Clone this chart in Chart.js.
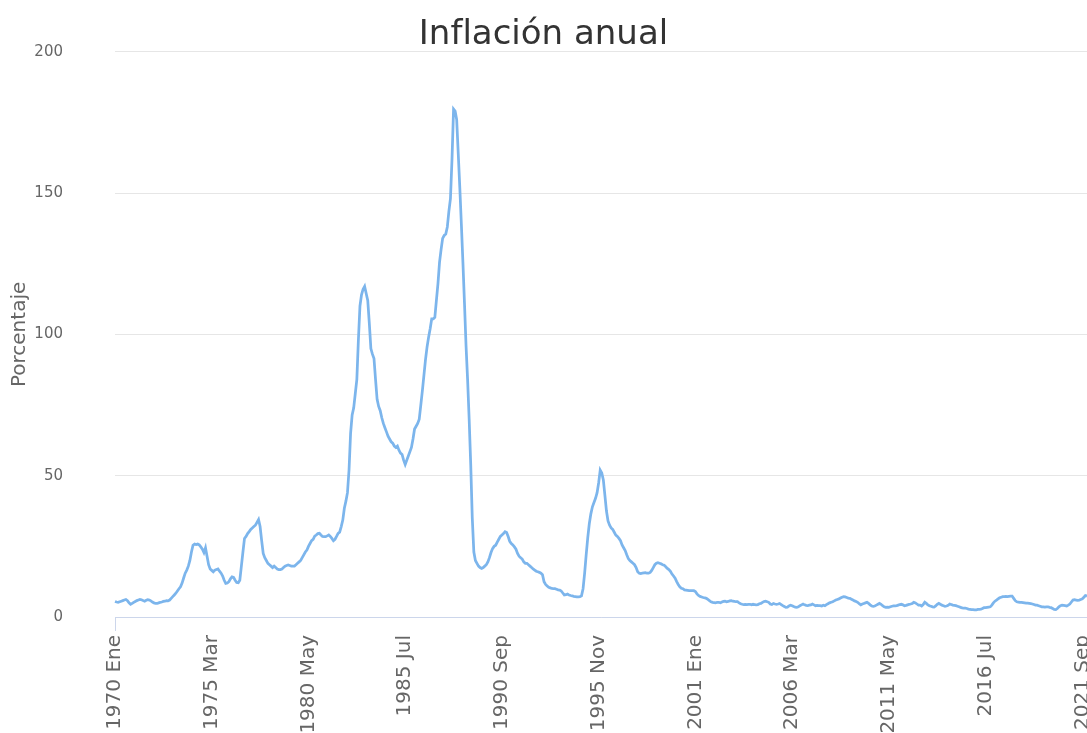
<!DOCTYPE html>
<html lang="es">
<head>
<meta charset="utf-8">
<title>Inflación anual</title>
<script src="https://cdn.jsdelivr.net/npm/chart.js@4.4.1/dist/chart.umd.min.js"></script>
<style>
  html, body { margin: 0; padding: 0; background: #fff; overflow: hidden; }
  #wrap { width: 1087px; height: 733px; }
</style>
</head>
<body>
<div id="wrap"><canvas id="chart"></canvas></div>
<script>
const months = ['Ene', 'Feb', 'Mar', 'Abr', 'May', 'Jun', 'Jul', 'Ago', 'Sep', 'Oct', 'Nov', 'Dic'];
const firstYear = 1970;
const lastYear = 2021;
const labelEvery = 62;
const yTicks = [0, 50, 100, 150, 200];

// inflación anual mensual (%), una fila por año
const inf1970s = [
  5.5, 5.3, 5.2, 5.4, 5.6, 5.8, 6.0, 6.2, 5.8, 5.0, 4.5, 4.8,
  5.2, 5.5, 5.8, 6.0, 6.2, 6.1, 5.8, 5.6, 5.9, 6.1, 6.0, 5.7,
  5.3, 5.0, 4.8, 4.8, 5.0, 5.2, 5.3, 5.5, 5.6, 5.8, 5.7, 6.0,
  6.6, 7.2, 7.8, 8.4, 9.2, 10.0, 10.7, 12.0, 13.8, 15.5, 16.6, 18.0,
  20.0, 23.0, 25.4, 25.8, 25.6, 25.8, 25.5, 24.8, 24.0, 22.8, 24.5, 21.5,
  18.5, 17.0, 16.5, 16.0, 16.6, 16.8, 17.0, 16.2, 15.5, 14.5, 13.0, 11.9,
  12.0, 12.5, 13.5, 14.2, 14.0, 13.0, 12.2, 12.1, 13.0, 18.0, 23.0, 27.8,
  28.5, 29.5, 30.2, 31.0, 31.5, 32.0, 32.5, 33.5, 34.5, 32.0, 27.0, 22.5,
  21.0, 20.0, 19.0, 18.5, 18.0, 17.5, 18.0, 17.5, 17.0, 16.8, 16.8, 17.0,
  17.5, 18.0, 18.2, 18.4, 18.2, 18.0, 18.0, 18.0, 18.5, 19.0, 19.5, 20.0
];
const inf1980s = [
  21.0, 22.0, 23.0, 23.7, 25.0, 26.0, 27.0, 27.5, 28.6, 29.0, 29.5, 29.6,
  29.0, 28.5, 28.4, 28.4, 28.7, 29.0, 28.5, 27.8, 27.0, 27.5, 28.5, 29.6,
  30.0, 32.0, 34.3, 38.5, 41.0, 44.0, 52.0, 65.0, 71.5, 74.0, 79.0, 84.0,
  98.0, 110.0, 114.0, 116.0, 117.0, 114.5, 112.0, 104.0, 95.0, 93.0, 91.5, 84.0,
  77.0, 74.5, 73.0, 70.5, 68.5, 67.0, 65.5, 64.0, 63.0, 62.0, 61.5, 60.5,
  60.0, 60.5, 59.0, 58.0, 57.5, 55.5, 54.0, 55.5, 57.0, 58.5, 60.0, 63.0,
  66.5, 67.5, 68.5, 70.0, 75.0, 80.0, 85.5, 91.0, 95.5, 99.0, 102.0, 105.5,
  105.5, 106.0, 112.0, 118.0, 125.5, 130.0, 134.0, 135.0, 135.5, 138.0, 143.5, 148.0,
  162.0, 179.7, 179.0, 176.0, 164.0, 152.0, 139.0, 125.5, 111.0, 96.0, 84.0, 70.0,
  54.0, 35.0, 23.0, 20.0, 19.0, 18.0, 17.5, 17.2, 17.5, 18.0, 18.5, 19.5
];
const inf1990s = [
  21.0, 22.8, 24.2, 25.0, 25.4, 26.5, 27.5, 28.5, 29.0, 29.5, 30.2, 29.9,
  28.5, 26.8, 26.0, 25.5, 24.8, 24.0, 22.5, 21.5, 21.0, 20.5, 19.5, 19.0,
  19.0, 18.5, 18.0, 17.5, 17.0, 16.6, 16.2, 16.0, 15.8, 15.5, 15.0, 12.5,
  11.5, 11.0, 10.5, 10.3, 10.1, 10.0, 10.0, 9.8, 9.6, 9.5, 9.2, 8.5,
  7.8, 7.9, 8.1, 7.8, 7.6, 7.5, 7.3, 7.2, 7.1, 7.1, 7.2, 7.5,
  10.0, 15.4, 22.0, 28.0, 33.0, 36.5, 39.0, 40.5, 42.0, 44.0, 47.5, 52.0,
  51.0, 48.5, 43.0, 37.5, 34.0, 32.5, 31.5, 31.0, 30.0, 29.0, 28.5, 27.8,
  27.0, 25.5, 24.5, 23.5, 22.0, 20.7, 20.0, 19.5, 19.0, 18.5, 17.5, 16.0,
  15.5, 15.4, 15.5, 15.6, 15.7, 15.5, 15.5, 15.8, 16.5, 17.5, 18.5, 19.0,
  19.2, 19.0, 18.8, 18.5, 18.3, 17.8, 17.2, 16.8, 16.2, 15.2, 14.5, 13.7
];
const inf2000s = [
  12.5, 11.5, 10.7, 10.2, 10.0, 9.6, 9.5, 9.4, 9.3, 9.3, 9.3, 9.3,
  9.0, 8.2, 7.6, 7.3, 7.1, 6.9, 6.8, 6.6, 6.2, 5.8, 5.4, 5.2,
  5.1, 5.0, 5.2, 5.2, 5.0, 5.3, 5.5, 5.6, 5.4, 5.5, 5.7, 5.8,
  5.6, 5.5, 5.4, 5.4, 5.0, 4.7, 4.5, 4.4, 4.5, 4.4, 4.5, 4.5,
  4.3, 4.5, 4.4, 4.3, 4.4, 4.7, 4.8, 5.2, 5.5, 5.6, 5.4, 5.2,
  4.6, 4.4, 4.8, 4.6, 4.5, 4.6, 4.8, 4.4, 4.0, 3.7, 3.4, 3.5,
  3.9, 4.2, 4.0, 3.7, 3.5, 3.4, 3.6, 4.0, 4.3, 4.6, 4.3, 4.1,
  4.0, 4.2, 4.3, 4.6, 4.3, 4.0, 4.1, 4.0, 4.0, 3.9, 4.2, 4.0,
  4.4, 4.7, 5.0, 5.2, 5.4, 5.7, 6.0, 6.2, 6.4, 6.7, 7.0, 7.2,
  7.1, 6.9, 6.7, 6.6, 6.3, 6.0, 5.7, 5.5, 5.2, 4.7, 4.3, 4.6
];
const inf2010s = [
  4.8, 5.0, 5.2, 4.8, 4.3, 3.9, 3.8, 3.9, 4.2, 4.5, 4.8, 4.5,
  4.0, 3.6, 3.4, 3.5, 3.4, 3.6, 3.8, 3.9, 3.9, 4.0, 4.2, 4.4,
  4.5, 4.3, 4.0, 4.1, 4.3, 4.5, 4.6, 4.8, 5.2, 5.0, 4.6, 4.2,
  4.2, 3.9, 4.4, 5.2, 4.8, 4.3, 4.0, 3.8, 3.6, 3.5, 3.9, 4.5,
  4.8, 4.5, 4.2, 4.0, 3.8, 3.9, 4.1, 4.6, 4.4, 4.2, 4.1, 4.0,
  3.8, 3.6, 3.4, 3.2, 3.1, 3.1, 3.0, 2.8, 2.7, 2.6, 2.6, 2.5,
  2.5, 2.7, 2.7, 2.8, 3.0, 3.3, 3.3, 3.4, 3.5, 3.6, 4.2, 5.0,
  5.6, 6.0, 6.4, 6.8, 7.0, 7.2, 7.2, 7.3, 7.2, 7.3, 7.4, 7.4,
  6.6, 5.8, 5.4, 5.3, 5.2, 5.2, 5.1, 5.0, 4.9, 4.9, 4.8, 4.7,
  4.6, 4.4, 4.2, 4.2, 4.0, 3.8, 3.6, 3.6, 3.5, 3.6, 3.6, 3.4
];
const inf2020s = [
  3.3, 3.0, 2.7, 2.6, 3.0, 3.6, 4.0, 4.2, 4.1, 4.0, 3.9, 4.2,
  4.6, 5.3, 6.0, 6.1, 6.0, 5.9, 6.0, 6.2, 6.4, 7.0, 7.6, 7.5
];

const categories = [];
for (let y = firstYear; y <= lastYear; y++) {
  months.forEach(m => categories.push(y + ' ' + m));
}
const values = [].concat(inf1970s, inf1980s, inf1990s, inf2000s, inf2010s, inf2020s);

new Chart(document.getElementById('chart'), {
  type: 'line',
  data: {
    labels: categories,
    datasets: [{
      label: 'Inflación anual',
      data: values,
      borderColor: '#7cb5ec',
      borderWidth: 2.75,
      pointRadius: 0,
      tension: 0,
      fill: false
    }]
  },
  options: {
    responsive: true,
    maintainAspectRatio: false,
    animation: false,
    layout: { padding: 0 },
    plugins: {
      legend: { display: false },
      tooltip: { enabled: false },
      title: {
        display: true,
        text: 'Inflación anual',
        color: '#333',
        font: { family: 'DejaVu Sans', size: 34, weight: 'normal' },
        padding: { top: 15, bottom: -4 }
      }
    },
    scales: {
      x: {
        ticks: {
          autoSkip: false,
          minRotation: 90,
          maxRotation: 90,
          padding: 4,
          color: '#666',
          font: { family: 'DejaVu Sans', size: 20 },
          callback: (v, i) => (i % labelEvery === 0 ? categories[i] : null)
        },
        grid: {
          drawOnChartArea: false,
          drawTicks: true,
          tickLength: 14,
          color: ctx => (ctx.index % labelEvery === 0 ? '#ccd6eb' : 'rgba(0,0,0,0)')
        },
        border: { display: true, color: '#ccd6eb' },
        afterFit: s => {
          s.height = 116;
          s.paddingLeft = 0;
          s.paddingRight = 0;
        }
      },
      y: {
        min: 0,
        max: 200,
        afterBuildTicks: s => { s.ticks = yTicks.map(v => ({ value: v })); },
        ticks: { padding: 52, color: '#666', font: { family: 'DejaVu Sans', size: 15 } },
        grid: { color: '#e6e6e6', drawTicks: false },
        border: { display: false },
        title: {
          display: true,
          text: 'Porcentaje',
          color: '#666',
          font: { family: 'DejaVu Sans', size: 20 },
          padding: { top: 8, bottom: 0 }
        },
        afterFit: s => {
          s.width = 115;
          s.paddingTop = 0;
          s.paddingBottom = 0;
        }
      }
    }
  }
});
</script>
</body>
</html>
